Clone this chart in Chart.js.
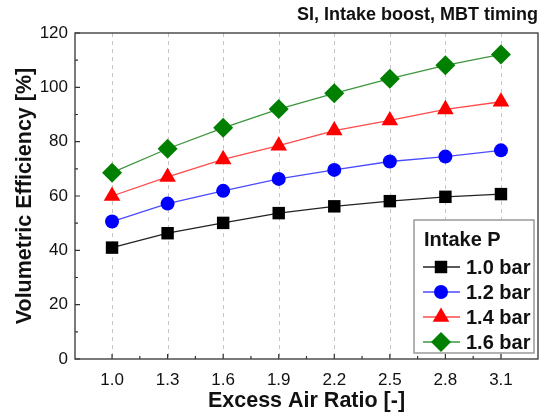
<!DOCTYPE html>
<html>
<head>
<meta charset="utf-8">
<script src="https://cdn.jsdelivr.net/npm/chart.js@4.4.1/dist/chart.umd.min.js"></script>
<style>
  html, body { margin: 0; padding: 0; background: #fff; }
  #wrap { width: 548px; height: 416px; }
</style>
</head>
<body>
<div id="wrap"><canvas id="chart" width="548" height="416"></canvas></div>
<script>
// excess air ratio values (x) and tick labels
const airRatio = [1.0, 1.3, 1.6, 1.9, 2.2, 2.5, 2.8, 3.1];
const yTicks = [0, 20, 40, 60, 80, 100, 120];

// volumetric efficiency [%] for each intake pressure
const ve10 = [41.0, 46.3, 50.1, 53.7, 56.2, 58.1, 59.7, 60.7];
const ve12 = [50.6, 57.2, 61.9, 66.3, 69.6, 72.7, 74.5, 76.8];
const ve14 = [60.0, 67.0, 73.5, 78.5, 84.1, 87.8, 91.9, 94.7];
const ve16 = [68.6, 77.4, 85.1, 92.0, 97.8, 103.2, 108.1, 112.1];

const seriesNames = ['1.0 bar', '1.2 bar', '1.4 bar', '1.6 bar'];
const FONT = '"Liberation Sans", Arial, sans-serif';

function toPoints(ys) {
    return airRatio.map(function (x, i) { return {x: x, y: ys[i]}; });
}

function makeSet(label, ys, color, lineColor, style, radius) {
    return {
        label: label,
        data: toPoints(ys),
        borderColor: lineColor,
        borderWidth: 1.3,
        backgroundColor: color,
        pointBackgroundColor: color,
        pointBorderColor: color,
        pointBorderWidth: 0,
        pointStyle: style,
        pointRadius: radius,
        pointHoverRadius: radius,
        tension: 0
    };
}

// dashed vertical grid lines under the data
const gridPlugin = {
    id: 'dashGrid',
    beforeDatasetsDraw: function (chart) {
        const ctx = chart.ctx;
        const a = chart.chartArea;
        const xs = chart.scales.x;
        ctx.save();
        ctx.strokeStyle = '#c4c4c4';
        ctx.lineWidth = 1;
        ctx.setLineDash([4, 4]);
        ctx.beginPath();
        airRatio.forEach(function (v) {
            const px = Math.round(xs.getPixelForValue(v)) + 0.5;
            ctx.moveTo(px, a.top);
            ctx.lineTo(px, a.bottom);
        });
        ctx.stroke();
        ctx.restore();
    }
};

// frame, inward ticks, custom legend and corner caption
const decorPlugin = {
    id: 'decor',
    afterDraw: function (chart) {
        const ctx = chart.ctx;
        const a = chart.chartArea;
        const xs = chart.scales.x;
        const ys = chart.scales.y;
        ctx.save();

        // ticks (inside)
        ctx.strokeStyle = '#333';
        ctx.lineWidth = 1.2;
        ctx.beginPath();
        airRatio.forEach(function (v, i) {
            const px = xs.getPixelForValue(v);
            ctx.moveTo(px, a.bottom);
            ctx.lineTo(px, a.bottom - 5);
            if (i < airRatio.length - 1) {
                const mx = xs.getPixelForValue((v + airRatio[i + 1]) / 2);
                ctx.moveTo(mx, a.bottom);
                ctx.lineTo(mx, a.bottom - 3);
            }
        });
        yTicks.forEach(function (v, i) {
            const py = ys.getPixelForValue(v);
            ctx.moveTo(a.left, py);
            ctx.lineTo(a.left + 5, py);
            if (i < yTicks.length - 1) {
                const my = ys.getPixelForValue((v + yTicks[i + 1]) / 2);
                ctx.moveTo(a.left, my);
                ctx.lineTo(a.left + 3, my);
            }
        });
        ctx.stroke();

        // frame
        ctx.strokeStyle = '#333';
        ctx.lineWidth = 1.3;
        ctx.strokeRect(a.left, a.top, a.right - a.left, a.bottom - a.top);

        // caption
        ctx.fillStyle = '#111';
        ctx.font = 'bold 18px ' + FONT;
        ctx.textAlign = 'right';
        ctx.textBaseline = 'middle';
        ctx.fillText('SI, Intake boost, MBT timing', a.right, 15);

        // legend box
        const bx = 414, by = 220, bw = 120, bh = 133;
        ctx.fillStyle = '#fff';
        ctx.fillRect(bx, by, bw, bh);
        ctx.strokeStyle = '#999';
        ctx.lineWidth = 1.5;
        ctx.strokeRect(bx, by, bw, bh);

        ctx.fillStyle = '#111';
        ctx.textAlign = 'left';
        ctx.font = 'bold 20px ' + FONT;
        ctx.fillText('Intake P', 424, 240);

        chart.data.datasets.forEach(function (ds, i) {
            const ly = 267 + i * 25;
            ctx.strokeStyle = ds.borderColor;
            ctx.lineWidth = 1.3;
            ctx.beginPath();
            ctx.moveTo(423, ly);
            ctx.lineTo(460, ly);
            ctx.stroke();
            ctx.fillStyle = ds.pointBackgroundColor;
            Chart.helpers.drawPoint(ctx, {pointStyle: ds.pointStyle, radius: ds.pointRadius, borderWidth: 0, rotation: 0}, 441, ly);
            ctx.fillStyle = '#111';
            ctx.fillText(ds.label, 466, ly + 1);
        });
        ctx.restore();
    }
};

new Chart(document.getElementById('chart'), {
    type: 'line',
    data: {
        datasets: [
            makeSet(seriesNames[0], ve10, '#000000', '#222222', 'rect', 8.8),
            makeSet(seriesNames[1], ve12, '#0000ff', '#4a4aff', 'circle', 7),
            makeSet(seriesNames[2], ve14, '#ff0000', '#ff4a4a', 'triangle', 9.6),
            makeSet(seriesNames[3], ve16, '#008000', '#3c963c', 'rectRot', 10)
        ]
    },
    options: {
        responsive: false,
        animation: false,
        events: [],
        layout: {padding: {left: 0, right: 6, top: 33, bottom: 0}},
        plugins: {legend: {display: false}, tooltip: {enabled: false}},
        scales: {
            x: {
                type: 'linear',
                min: 0.8,
                max: 3.3,
                afterBuildTicks: function (scale) {
                    scale.ticks = airRatio.map(function (v) { return {value: v}; });
                },
                afterFit: function (scale) { scale.height = 57; },
                grid: {display: false, drawTicks: false},
                border: {display: false},
                ticks: {
                    padding: 11,
                    color: '#111',
                    font: {family: FONT, size: 17},
                    maxRotation: 0,
                    callback: function (v) { return Number(v).toFixed(1); }
                },
                title: {
                    display: true,
                    text: 'Excess Air Ratio [-]',
                    color: '#111',
                    font: {family: FONT, size: 21.5, weight: 'bold'},
                    padding: {top: 0, bottom: 2}
                }
            },
            y: {
                min: 0,
                max: 120,
                afterBuildTicks: function (scale) {
                    scale.ticks = yTicks.map(function (v) { return {value: v}; });
                },
                afterFit: function (scale) { scale.width = 75; },
                grid: {display: false, drawTicks: false},
                border: {display: false},
                ticks: {
                    padding: 7,
                    color: '#111',
                    font: {family: FONT, size: 17}
                },
                title: {
                    display: true,
                    text: 'Volumetric Efficiency [%]',
                    color: '#111',
                    font: {family: FONT, size: 21.5, weight: 'bold'},
                    padding: {top: 12, bottom: 0}
                }
            }
        }
    },
    plugins: [gridPlugin, decorPlugin]
});
</script>
</body>
</html>
